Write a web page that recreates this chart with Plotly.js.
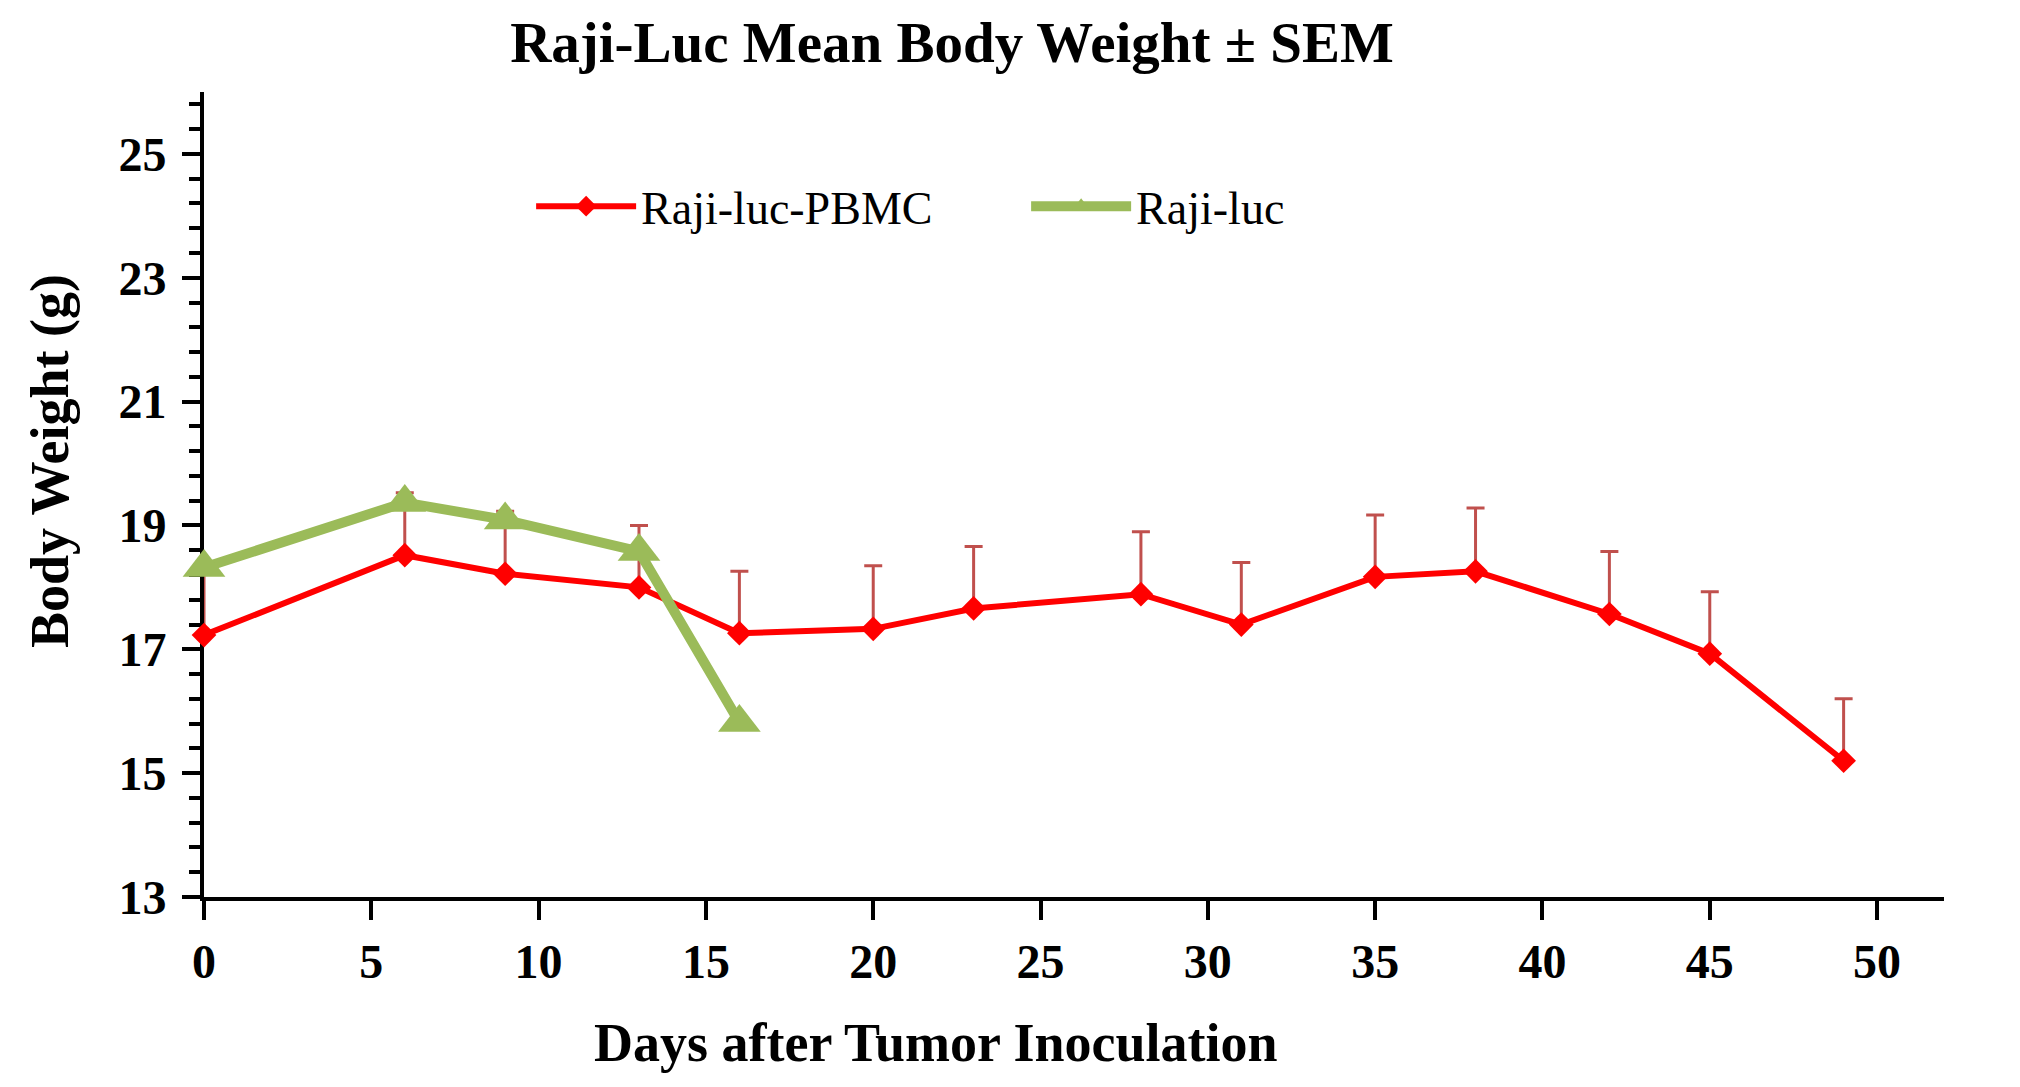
<!DOCTYPE html>
<html>
<head>
<meta charset="utf-8">
<script src="https://cdn.plot.ly/plotly-3.0.1.min.js"></script>
<style>
html, body { margin: 0; padding: 0; background: #ffffff; }
#chart { width: 2020px; height: 1087px; }
</style>
</head>
<body>
<div id="chart"></div>
<script>
// ---- data ----
const chartTitle = "Raji-Luc Mean Body Weight \u00B1 SEM";
const xTitle = "Days after Tumor Inoculation";
const yTitle = "Body Weight (g)";

const pbmcName = "Raji-luc-PBMC";
const pbmcDays = [0, 6, 9, 13, 16, 20, 23, 28, 31, 35, 38, 42, 45, 49];
const pbmcMean = [17.23, 18.52, 18.22, 18.00, 17.26, 17.33, 17.66, 17.89, 17.40, 18.17, 18.26, 17.57, 16.93, 15.20];
const pbmcSem  = [1.00, 1.01, 1.01, 1.00, 1.00, 1.02, 1.00, 1.01, 1.00, 1.00, 1.02, 1.01, 1.00, 1.00];

const lucName = "Raji-luc";
const lucDays = [0, 6, 9, 13, 16];
const lucMean = [18.32, 19.37, 19.09, 18.58, 15.82];

const yTickVals = [13, 15, 17, 19, 21, 23, 25];
const xTickVals = [0, 5, 10, 15, 20, 25, 30, 35, 40, 45, 50];

// ---- styling ----
const serif = "Liberation Serif, Times New Roman, serif";

const traces = [
  {
    type: "scatter",
    mode: "lines+markers",
    name: pbmcName,
    x: pbmcDays,
    y: pbmcMean,
    line: { color: "#FF0000", width: 6 },
    marker: { symbol: "diamond", size: 19, color: "#FF0000" },
    error_y: {
      type: "data",
      symmetric: false,
      array: pbmcSem,
      arrayminus: pbmcSem.map(() => 0),
      color: "#C0504D",
      thickness: 3,
      width: 9
    },
    cliponaxis: false
  },
  {
    type: "scatter",
    mode: "lines+markers",
    name: lucName,
    x: lucDays,
    y: lucMean,
    line: { color: "#9BBB59", width: 10 },
    marker: { symbol: "triangle-up", size: 37, color: "#9BBB59" },
    cliponaxis: false
  }
];

const axisCommon = {
  showgrid: false,
  zeroline: false,
  showline: true,
  linecolor: "#000000",
  linewidth: 4,
  ticks: "outside",
  tickcolor: "#000000",
  tickwidth: 4,
  layer: "below traces",
  tickfont: { family: serif, size: 48, color: "#000000", weight: "bold" }
};

const layout = {
  width: 2020,
  height: 1087,
  paper_bgcolor: "#ffffff",
  plot_bgcolor: "#ffffff",
  margin: { l: 204, r: 76, t: 92, b: 190 },
  title: {
    text: chartTitle,
    font: { family: serif, size: 57, color: "#000000", weight: "bold" },
    xref: "container", x: 952 / 2020, xanchor: "center",
    yref: "container", y: 1 - 42 / 1087, yanchor: "middle"
  },
  xaxis: Object.assign({}, axisCommon, {
    range: [0, 52],
    tickmode: "array",
    tickvals: xTickVals,
    ticklen: 19,
    ticklabelstandoff: 0
  }),
  yaxis: Object.assign({}, axisCommon, {
    range: [13, 26],
    tickmode: "array",
    tickvals: yTickVals,
    ticklen: 18,
    ticklabelstandoff: 6,
    minor: { tick0: 13, dtick: 0.4, ticks: "outside", ticklen: 11, tickwidth: 4, tickcolor: "#000000", showgrid: false }
  }),
  showlegend: true,
  legend: {
    orientation: "h",
    x: 0.188, xanchor: "left",
    y: 0.858, yanchor: "middle",
    entrywidth: 380, entrywidthmode: "pixels",
    itemwidth: 100,
    bgcolor: "rgba(0,0,0,0)",
    font: { family: serif, size: 46, color: "#000000" }
  },
  annotations: [
    {
      text: xTitle, showarrow: false,
      xref: "paper", yref: "paper",
      x: (936 - 204) / 1740, y: (897 - 1043) / 805,
      xanchor: "center", yanchor: "middle",
      font: { family: serif, size: 54, color: "#000000", weight: "bold" }
    },
    {
      text: yTitle, showarrow: false, textangle: -90,
      xref: "paper", yref: "paper",
      x: (50 - 204) / 1740, y: (897 - 461) / 805,
      xanchor: "center", yanchor: "middle",
      font: { family: serif, size: 54, color: "#000000", weight: "bold" }
    }
  ]
};

Plotly.newPlot("chart", traces, layout, { displayModeBar: false, staticPlot: true });
</script>
</body>
</html>
